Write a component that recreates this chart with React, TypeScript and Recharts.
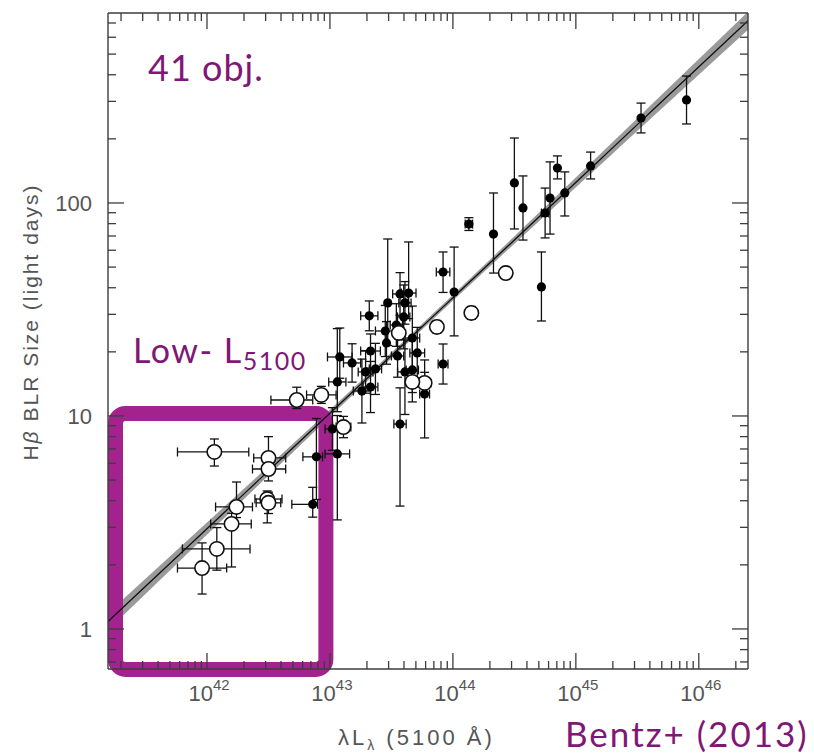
import React from 'react';
import { ComposedChart, Scatter, ErrorBar, Line, Area, XAxis, YAxis, ReferenceArea } from 'recharts';

const W = 814;
const H = 755;

// axes are in log10 units: x = log(lambda L_5100 / erg s^-1), y = log(tau / light days)
const X_DOMAIN: [number, number] = [41.195, 46.4];
const Y_DOMAIN: [number, number] = [-0.188, 2.892];
const X_MAJOR = [42, 43, 44, 45, 46];
const Y_MAJOR = [0, 1, 2];
const Y_LABELS = ['1', '10', '100'];

// filled points
const agnLogL = [45.90, 45.53, 45.12, 44.85, 44.91, 44.79, 44.75, 44.57, 44.50, 44.13, 44.33, 44.72, 44.01, 43.92, 43.92, 43.57, 43.77, 43.47, 43.32, 43.45, 43.46, 43.33, 43.08, 43.18, 43.29, 43.37, 43.06, 43.26, 43.33, 43.57, 43.64, 43.61, 43.60, 43.67, 43.71, 43.61, 43.67, 43.55, 43.54, 43.02, 42.89, 43.06, 42.86];
const agnLogTau = [2.484, 2.399, 2.174, 2.164, 2.047, 2.023, 1.953, 1.977, 2.094, 1.901, 1.854, 1.606, 1.582, 1.676, 1.244, 0.962, 1.103, 1.531, 1.470, 1.399, 1.343, 1.305, 1.277, 1.249, 1.207, 1.221, 1.160, 1.117, 1.136, 1.573, 1.577, 1.531, 1.465, 1.366, 1.296, 1.207, 1.216, 1.282, 1.427, 0.939, 0.808, 0.822, 0.585];
const agnLogLErr: ([number, number] | null)[] = [null, null, null, null, null, null, [0.03, 0.03], null, null, [0.03, 0.03], null, null, null, [0.055, 0.055], [0.04, 0.04], [0.05, 0.05], [0.04, 0.04], null, [0.07, 0.07], [0.08, 0.08], null, [0.08, 0.08], [0.1, 0.1], [0.07, 0.07], [0.06, 0.06], [0.05, 0.05], [0.07, 0.07], [0.07, 0.07], [0.06, 0.06], [0.06, 0.06], [0.06, 0.06], [0.05, 0.05], [0.05, 0.05], [0.06, 0.06], [0.06, 0.06], [0.06, 0.06], [0.05, 0.05], [0.05, 0.05], [0.05, 0.05], [0.06, 0.06], [0.11, 0.05], [0.1, 0.1], [0.17, 0.04]];
const agnLogTauErr: [number, number][] = [[0.113, 0.112], [0.07, 0.07], [0.061, 0.065], [0.051, 0.057], [0.108, 0.099], [0.169, 0.17], [0.117, 0.117], [0.151, 0.15], [0.216, 0.211], [0.03, 0.03], [0.183, 0.193], [0.16, 0.164], [0.206, 0.211], [0.096, 0.094], [0.094, 0.094], [0.385, 0.17], [0.206, 0.16], [0.2, 0.3], [0.07, 0.07], [0.12, 0.12], [0.1, 0.1], [0.08, 0.08], [0.1, 0.136], [0.09, 0.09], [0.1, 0.1], [0.12, 0.12], [0.14, 0.25], [0.15, 0.15], [0.12, 0.12], [0.1, 0.1], [0.12, 0.24], [0.1, 0.1], [0.15, 0.15], [0.2, 0.15], [0.12, 0.12], [0.2, 0.15], [0.15, 0.15], [0.1, 0.1], [0.1, 0.1], [0.1, 0.1], [0.2, 0.18], [0.31, 0.18], [0.06, 0.08]];

// open circles
const openLogL = [44.43, 44.15, 43.87, 43.56, 43.77, 43.67, 43.11, 42.73, 42.93, 42.06, 42.50, 42.50, 42.49, 42.50, 42.24, 42.20, 42.08, 41.96];
const openLogTau = [1.671, 1.484, 1.418, 1.390, 1.155, 1.160, 0.948, 1.075, 1.099, 0.831, 0.803, 0.751, 0.610, 0.592, 0.573, 0.493, 0.376, 0.286];
const openLogLErr: ([number, number] | null)[] = [null, [0.03, 0.03], [0.03, 0.03], null, [0.05, 0.05], [0.05, 0.05], [0.06, 0.06], [0.21, 0.13], [0.12, 0.12], [0.30, 0.28], [0.12, 0.14], [0.13, 0.14], [0.10, 0.12], [0.10, 0.10], [0.17, 0.13], [0.17, 0.16], [0.28, 0.27], [0.20, 0.20]];
const openLogTauErr: [number, number][] = [[0.02, 0.02], [0.03, 0.03], [0.03, 0.03], [0.03, 0.03], [0.05, 0.05], [0.05, 0.05], [0.05, 0.05], [0.04, 0.06], [0.04, 0.04], [0.066, 0.061], [0.04, 0.10], [0.056, 0.05], [0.112, 0.038], [0.05, 0.05], [0.05, 0.117], [0.202, 0.05], [0.10, 0.10], [0.122, 0.118]];

// R-L fit: log tau = K + alpha * (log L - 44)
const FIT_K = 1.555;
const FIT_ALPHA = 0.542;

const INK = '#3c3c3c';
const LABEL = '#555';
const PURPLE_BOX = '#a2238d';
const PURPLE_TEXT = '#7f1776';

const agnData = agnLogL.map((x, i) => ({ x, y: agnLogTau[i], ex: agnLogLErr[i], ey: agnLogTauErr[i] }));
const openData = openLogL.map((x, i) => ({ x, y: openLogTau[i], ex: openLogLErr[i], ey: openLogTauErr[i] }));

const fitData = Array.from({ length: 61 }, (_, i) => {
  const x = X_DOMAIN[0] + ((X_DOMAIN[1] - X_DOMAIN[0]) * i) / 60;
  const fit = FIT_K + FIT_ALPHA * (x - 44);
  const half = Math.sqrt(0.013 * 0.013 + Math.pow(0.015 * (x - 43.7), 2));
  return { x, fit, band: [fit - half, fit + half] };
});

function logTicks(domain: [number, number]) {
  const out: number[] = [];
  for (let d = Math.floor(domain[0]); d <= Math.ceil(domain[1]); d++) {
    for (let k = 1; k <= 9; k++) {
      const v = d + Math.log10(k);
      if (v >= domain[0] && v <= domain[1]) out.push(v);
    }
  }
  return out;
}
const X_TICKS = logTicks(X_DOMAIN);
const Y_TICKS = logTicks(Y_DOMAIN);

const isMajor = (v: number, majors: number[]) => majors.some((m) => Math.abs(m - v) < 1e-6);

// ticks point into the plot; tickSize/tickMargin are 0 so (x, y) sits on the axis line
function makeTick(side: 'bottom' | 'top' | 'left' | 'right') {
  return (props: any) => {
    const { x, y, payload } = props;
    const v = payload.value;
    const major = isMajor(v, side === 'bottom' || side === 'top' ? X_MAJOR : Y_MAJOR);
    const len = major ? 16 : 8;
    let line;
    if (side === 'bottom') line = <line x1={x} y1={y} x2={x} y2={y - len} />;
    else if (side === 'top') line = <line x1={x} y1={y} x2={x} y2={y + len} />;
    else if (side === 'left') line = <line x1={x} y1={y} x2={x + len} y2={y} />;
    else line = <line x1={x} y1={y} x2={x - len} y2={y} />;
    let label = null;
    if (major && side === 'bottom') {
      label = (
        <text x={x + 2} y={y + 32} textAnchor="middle" fill={LABEL} stroke="none" fontFamily="Liberation Sans, Arial, sans-serif" fontSize={22}>
          10<tspan dy={-11} fontSize={15}>{Math.round(v)}</tspan>
        </text>
      );
    }
    if (major && side === 'left') {
      label = (
        <text x={x - 16} y={y + 8} textAnchor="end" fill={LABEL} stroke="none" fontFamily="Liberation Sans, Arial, sans-serif" fontSize={22}>
          {Y_LABELS[Y_MAJOR.indexOf(Math.round(v))]}
        </text>
      );
    }
    return (
      <g stroke={INK} strokeWidth={1.3}>
        {line}
        {label}
      </g>
    );
  };
}

const filledDot = (p: any) => <circle cx={p.cx} cy={p.cy} r={4.6} fill="#000" />;
const openDot = (p: any) => <circle cx={p.cx} cy={p.cy} r={7.2} fill="#fff" stroke="#111" strokeWidth={1.6} />;

const axisLine = { stroke: INK, strokeWidth: 1.4 };

export default function App() {
  return (
    <div style={{ position: 'absolute', left: 0, top: 0, width: W, height: H, background: '#fff' }}>
      <ComposedChart width={W} height={H} margin={{ top: 12, left: 107, right: 65, bottom: 85 }}>
        <XAxis type="number" dataKey="x" domain={X_DOMAIN} allowDataOverflow ticks={X_TICKS} interval={0}
          height={1} tickSize={0} tickMargin={0} tickLine={false} axisLine={axisLine} tick={makeTick('bottom')} />
        <XAxis xAxisId="top" orientation="top" type="number" dataKey="x" domain={X_DOMAIN} allowDataOverflow ticks={X_TICKS} interval={0}
          height={1} tickSize={0} tickMargin={0} tickLine={false} axisLine={axisLine} tick={makeTick('top')} />
        <YAxis type="number" domain={Y_DOMAIN} allowDataOverflow ticks={Y_TICKS} interval={0}
          width={1} tickSize={0} tickMargin={0} tickLine={false} axisLine={axisLine} tick={makeTick('left')} />
        <YAxis yAxisId="right" orientation="right" type="number" domain={Y_DOMAIN} allowDataOverflow ticks={Y_TICKS} interval={0}
          width={1} tickSize={0} tickMargin={0} tickLine={false} axisLine={axisLine} tick={makeTick('right')} />

        <Area data={fitData} dataKey="band" type="linear" stroke="none" fill="#9a9a9a" fillOpacity={1} isAnimationActive={false} />
        <Line data={fitData} dataKey="fit" type="linear" stroke="#111" strokeWidth={1.3} dot={false} isAnimationActive={false} />

        <Scatter data={agnData} dataKey="y" shape={filledDot} isAnimationActive={false}>
          <ErrorBar dataKey="ex" direction="x" width={4.5} stroke="#111" strokeWidth={1.3} />
          <ErrorBar dataKey="ey" direction="y" width={4.5} stroke="#111" strokeWidth={1.3} />
        </Scatter>
        <Scatter data={openData} dataKey="y" shape={openDot} isAnimationActive={false}>
          <ErrorBar dataKey="ex" direction="x" width={4.5} stroke="#111" strokeWidth={1.3} />
          <ErrorBar dataKey="ey" direction="y" width={4.5} stroke="#111" strokeWidth={1.3} />
        </Scatter>

        <ReferenceArea x1={41.256} x2={42.967} y1={-0.19} y2={1.012} ifOverflow="visible"
          fill="none" fillOpacity={0} stroke={PURPLE_BOX} strokeWidth={15} radius={10} />
      </ComposedChart>

      <svg width={W} height={H} style={{ position: 'absolute', left: 0, top: 0, pointerEvents: 'none' }}>
        <text x={30} y={322} transform="rotate(-90 30 322)" textAnchor="middle" dominantBaseline="central"
          fill={LABEL} fontFamily="Liberation Sans, Arial, sans-serif" fontSize={21} letterSpacing={2}>
          H<tspan fontStyle="italic">β</tspan> BLR Size  (light days)
        </text>
        <text x={338} y={745} fill={LABEL} fontFamily="Liberation Sans, Arial, sans-serif" fontSize={22} letterSpacing={3}>
          λL<tspan dy={5} fontSize={14}>λ</tspan><tspan dy={-5}> (5100 Å)</tspan>
        </text>
        <text x={148} y={81} fill={PURPLE_TEXT} fontFamily="Lato, sans-serif" fontSize={36} letterSpacing={1}>41 obj.</text>
        <text x={133} y={363} fill={PURPLE_TEXT} fontFamily="Lato, sans-serif" fontSize={34} letterSpacing={1.5}>
          Low- L<tspan dy={7} fontSize={25}>5100</tspan>
        </text>
        <text x={565} y={747} fill={PURPLE_TEXT} fontFamily="Lato, sans-serif" fontSize={35} letterSpacing={2}>Bentz+ (2013)</text>
      </svg>
    </div>
  );
}
